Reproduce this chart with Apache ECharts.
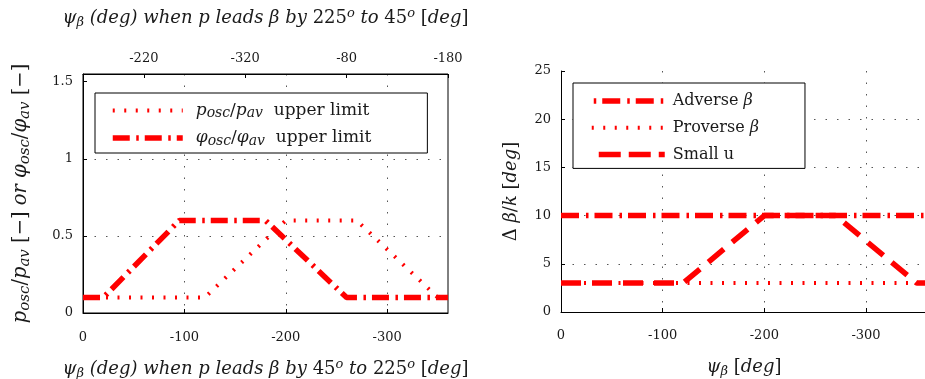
<!DOCTYPE html>
<html>
<head>
<meta charset="utf-8">
<script src="https://cdn.jsdelivr.net/npm/echarts@6/dist/echarts.min.js"></script>
<style>html,body{margin:0;padding:0;background:#fff;}#c{width:925px;height:379px;}</style>
</head>
<body>
<div id="c"></div>
<script>
// ---- data ----
const pOscX   = [0, -120, -200, -270, -350, -360];
const pOscY   = [0.1, 0.1, 0.6, 0.6, 0.1, 0.1];
const phiOscX = [0, -20, -95, -180, -260, -360];
const phiOscY = [0.1, 0.1, 0.6, 0.6, 0.1, 0.1];
const adverseX  = [0, -360];
const adverseY  = [10, 10];
const proverseX = [0, -360];
const proverseY = [3, 3];
const smallUX = [0, -120, -200, -270, -350, -360];
const smallUY = [3, 3, 10, 10, 3, 3];
// ---- tick labels ----
const bottomTicks = [0, -100, -200, -300];
const topTickPos = [-60, -160, -260, -360];
const topTickLabels = ['-220', '-320', '-80', '-180'];
const leftYTicks = [0, 0.5, 1, 1.5];
const rightYTicks = [0, 5, 10, 15, 20, 25];

const zip = (xs, ys) => xs.map((x, i) => [x, ys[i]]);
const F = "'DejaVu Serif', serif";
const C = '#1a1a1a';
function rich(fs, lh, subRatio) {
  const sr = subRatio || 0.72;
  const ss = Math.round(fs * sr);
  return {
    i: {fontFamily: F, fontStyle: 'italic', fontSize: fs, lineHeight: lh, color: C},
    r: {fontFamily: F, fontSize: fs, lineHeight: lh, color: C},
    sub: {fontFamily: F, fontStyle: 'italic', fontSize: ss, lineHeight: ss, verticalAlign: 'bottom', color: C},
    sup: {fontFamily: F, fontStyle: 'italic', fontSize: ss, lineHeight: ss, verticalAlign: 'top', color: C}
  };
}
const RED = '#ff0000';
const dotted = {color: RED, width: 4, type: [2, 9.5]};
const dashDot = {color: RED, width: 5.5, type: [17, 6.5, 2.5, 6]};
const dashDot2 = {color: RED, width: 5.5, type: [18, 7, 2.5, 6]};
const dashed = {color: RED, width: 5.5, type: [20, 11]};
const gridLine = {show: true, lineStyle: {color: '#555', width: 1, type: [1.5, 10]}};
const tickLbl = {color: C, fontFamily: F, fontSize: 13};
const hiddenSymbol = {color: 'transparent', borderWidth: 0, opacity: 0};

const names = {
  p: 'p_osc/p_av upper limit',
  phi: 'phi_osc/phi_av upper limit',
  adv: 'Adverse beta',
  pro: 'Proverse beta',
  su: 'Small u'
};
const legendText = {};
legendText[names.p] = '{i|p}{sub|osc}{r|/}{i|p}{sub|av}{r|  upper limit}';
legendText[names.phi] = '{i|φ}{sub|osc}{r|/}{i|φ}{sub|av}{r|  upper limit}';
legendText[names.adv] = '{r|Adverse }{i|β}';
legendText[names.pro] = '{r|Proverse }{i|β}';
legendText[names.su] = '{r|Small u}';

const chart = echarts.init(document.getElementById('c'), null, {renderer: 'canvas'});
chart.setOption({
  animation: false,
  backgroundColor: '#fff',
  grid: [
    {left: 83, top: 74, width: 365, height: 239, show: true, borderColor: '#000', borderWidth: 1,
     backgroundColor: 'transparent', containLabel: false, outerBoundsMode: 'none'},
    {left: 561, top: 71, width: 366, height: 241, containLabel: false, outerBoundsMode: 'none'}
  ],
  legend: [
    {
      left: 95, top: 93, orient: 'vertical', padding: [9, 56, 5, 15],
      itemWidth: 70, itemHeight: 14, itemGap: 9,
      backgroundColor: '#fff', borderColor: '#000', borderWidth: 1, borderRadius: 0,
      itemStyle: hiddenSymbol,
      data: [
        {name: names.p, lineStyle: dotted, itemStyle: hiddenSymbol},
        {name: names.phi, lineStyle: dashDot, itemStyle: hiddenSymbol}
      ],
      formatter: n => legendText[n],
      textStyle: {padding: [0, 0, 0, 8], rich: rich(17, 20, 0.8)}
    },
    {
      left: 573, top: 83, orient: 'vertical', padding: [10, 46, 6, 15],
      itemWidth: 74, itemHeight: 14, itemGap: 10.7,
      backgroundColor: '#fff', borderColor: '#000', borderWidth: 1, borderRadius: 0,
      itemStyle: hiddenSymbol,
      data: [
        {name: names.adv, lineStyle: Object.assign({}, dashDot2, {dashOffset: 22}), itemStyle: hiddenSymbol},
        {name: names.pro, lineStyle: dotted, itemStyle: hiddenSymbol},
        {name: names.su, lineStyle: Object.assign({}, dashed, {type: [22, 8]}), itemStyle: hiddenSymbol}
      ],
      formatter: n => legendText[n],
      textStyle: {padding: [0, 0, 0, 3], rich: rich(16, 20)}
    }
  ],
  xAxis: [
    {
      gridIndex: 0, type: 'value', min: -360, max: 0, inverse: true, position: 'bottom',
      axisLine: {show: true, onZero: false, lineStyle: {color: '#000', width: 1}},
      axisTick: {show: true, inside: true, length: 4, customValues: bottomTicks, lineStyle: {color: '#000'}},
      axisLabel: Object.assign({customValues: bottomTicks, margin: 18}, tickLbl),
      splitLine: gridLine,
      name: '{i|ψ}{sub|β}{i| (deg) when p leads β by }{r|45}{sup|o}{i| to }{r|225}{sup|o}{r| [}{i|deg}{r|]}',
      nameLocation: 'middle', nameGap: 45,
      nameTextStyle: {rich: rich(18, 22)}
    },
    {
      gridIndex: 0, type: 'value', min: -360, max: 0, inverse: true, position: 'top',
      axisLine: {show: true, onZero: false, lineStyle: {color: '#000', width: 1}},
      axisTick: {show: true, inside: true, length: 4, customValues: topTickPos, lineStyle: {color: '#000'}},
      axisLabel: Object.assign({customValues: topTickPos, margin: 9,
        formatter: v => topTickLabels[topTickPos.indexOf(v)]}, tickLbl),
      splitLine: {show: false},
      name: '{i|ψ}{sub|β}{i| (deg) when p leads β by }{r|225}{sup|o}{i| to }{r|45}{sup|o}{r| [}{i|deg}{r|]}',
      nameLocation: 'middle', nameGap: 45,
      nameTextStyle: {rich: rich(18, 22)}
    },
    {
      gridIndex: 1, type: 'value', min: -360, max: 0, inverse: true, position: 'bottom',
      axisLine: {show: true, onZero: false, lineStyle: {color: '#000', width: 1}},
      axisTick: {show: true, inside: true, length: 4, customValues: bottomTicks, lineStyle: {color: '#000'}},
      axisLabel: Object.assign({customValues: bottomTicks, margin: 17}, tickLbl),
      splitLine: gridLine,
      name: '{i|ψ}{sub|β}{r| [}{i|deg}{r|]}',
      nameLocation: 'middle', nameGap: 44,
      nameTextStyle: {rich: rich(18, 22)}
    }
  ],
  yAxis: [
    {
      gridIndex: 0, type: 'value', min: 0, max: 1.55,
      axisLine: {show: true, onZero: false, lineStyle: {color: '#000', width: 1}},
      axisTick: {show: true, inside: true, length: 4, customValues: leftYTicks, lineStyle: {color: '#000'}},
      axisLabel: Object.assign({customValues: leftYTicks, margin: 10}, tickLbl),
      splitLine: Object.assign({showMinLine: false, showMaxLine: false}, gridLine),
      name: '{i|p}{sub|osc}{r|/}{i|p}{sub|av}{r| [−] }{i|or }{i|φ}{sub|osc}{r|/}{i|φ}{sub|av}{r| [−]}',
      nameLocation: 'middle', nameGap: 50,
      nameTextStyle: {rich: rich(19.5, 24, 0.78)}
    },
    {
      gridIndex: 1, type: 'value', min: 0, max: 25, interval: 5,
      axisLine: {show: true, onZero: false, lineStyle: {color: '#000', width: 1}},
      axisTick: {show: true, inside: true, length: 4, lineStyle: {color: '#000'}},
      axisLabel: Object.assign({margin: 10}, tickLbl),
      splitLine: Object.assign({showMinLine: false, showMaxLine: false}, gridLine),
      name: '{r|Δ }{i|β}{r|/}{i|k}{r| [}{i|deg}{r|]}',
      nameLocation: 'middle', nameGap: 39,
      nameTextStyle: {rich: rich(18, 22)}
    }
  ],
  series: [
    {type: 'line', name: names.p, xAxisIndex: 0, yAxisIndex: 0, data: zip(pOscX, pOscY), symbol: 'none', lineStyle: dotted, itemStyle: {color: RED}},
    {type: 'line', name: names.phi, xAxisIndex: 0, yAxisIndex: 0, data: zip(phiOscX, phiOscY), symbol: 'none', lineStyle: dashDot, itemStyle: {color: RED}},
    {type: 'line', name: names.adv, xAxisIndex: 2, yAxisIndex: 1, data: zip(adverseX, adverseY), symbol: 'none', lineStyle: dashDot2, itemStyle: {color: RED}},
    {type: 'line', name: names.pro, xAxisIndex: 2, yAxisIndex: 1, data: zip(proverseX, proverseY), symbol: 'none', lineStyle: dotted, itemStyle: {color: RED}},
    {type: 'line', name: names.su, xAxisIndex: 2, yAxisIndex: 1, data: zip(smallUX, smallUY), symbol: 'none', lineStyle: dashed, itemStyle: {color: RED}}
  ]
});
</script>
</body>
</html>
